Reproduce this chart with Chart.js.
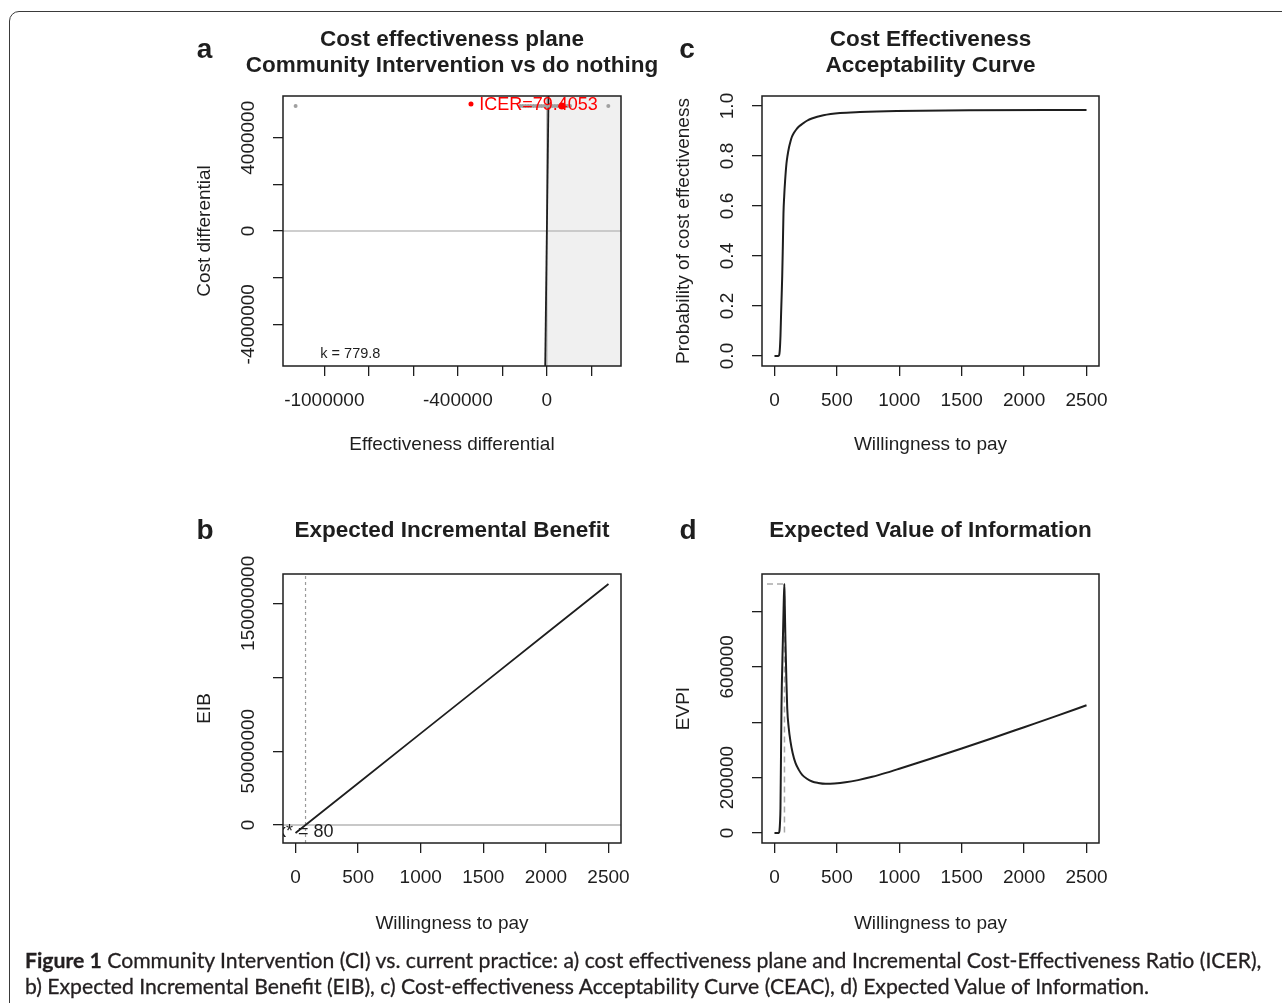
<!DOCTYPE html>
<html>
<head>
<meta charset="utf-8">
<script src="https://cdn.jsdelivr.net/npm/chart.js@4.4.1/dist/chart.umd.min.js"></script>
<style>
    html, body { margin: 0; padding: 0; background: #fff; width: 1282px; height: 1003px; overflow: hidden; }
    .frame { position: absolute; left: 9px; top: 11px; width: 1320px; height: 1040px; border: 1.5px solid #3a3a3a; border-radius: 10px; }
    canvas { position: absolute; }
    #cap { position: absolute; left: 25px; top: 947px; font-family: Lato, "Open Sans", sans-serif; color: #231f20; font-size: 19px; line-height: 26px; white-space: nowrap; -webkit-text-stroke: 0.3px #231f20; }
    #cap div { display: inline-block; }
</style>
</head>
<body>
<div class="frame"></div>
<canvas id="panelA" width="490" height="450" style="left:180px;top:20px"></canvas>
<canvas id="panelC" width="490" height="450" style="left:660px;top:20px"></canvas>
<canvas id="panelB" width="490" height="450" style="left:180px;top:500px"></canvas>
<canvas id="panelD" width="490" height="450" style="left:660px;top:500px"></canvas>
<div id="cap">
    <div id="capLine1"><b>Figure 1</b> Community Intervention (CI) vs. current practice: a) cost effectiveness plane and Incremental Cost-Effectiveness Ratio (ICER),</div><br>
    <div>b) Expected Incremental Benefit (EIB), c) Cost-effectiveness Acceptability Curve (CEAC), d) Expected Value of Information.</div>
</div>
<script>
/* BCEA-style summary: CE plane, EIB, CEAC and EVPI for Community Intervention */

const FONT = '"Liberation Sans", Arial, sans-serif';
const INK = '#1e1e1e';

// a) cost-effectiveness plane
const planeXLim = [-1185600, 333100];
const planeYLim = [-5790000, 5790000];
const planeXTicks = [-1000000, -800000, -600000, -400000, -200000, 0, 200000];
const planeXLabels = ['-1000000', '', '', '-400000', '', '0', ''];
const planeYTicks = [-4000000, -2000000, 0, 2000000, 4000000];
const planeYLabels = ['-4000000', '', '0', '', '4000000'];
const simEffect = [-1129000, -120000, -108000, -96000, -84000, -72000, -60000, -48000, -36000, -24000,
    -12000, 0, 12000, 24000, 36000, 48000, 60000, 80000, 92000, 104000, 276000];
const simCost = [5360000, 5360000, 5360000, 5360000, 5360000, 5360000, 5360000, 5360000, 5360000, 5360000,
    5360000, 5360000, 5360000, 5360000, 5360000, 5360000, 5360000, 5360000, 5360000, 5360000, 5360000];
const icerEffect = [67500];
const icerCost = [5360000];
const icerKeyEffect = [-341000];
const icerKeyCost = [5450000];
const kLineEffect = [-7425, 7425];
const kLineCost = [-5790000, 5790000];
const acceptEffect = [-7425, 7425, 333100];
const acceptCost = [-5790000, 5790000, 5790000];
const ICER_TEXT = 'ICER=79.4053';
const K_TEXT = 'k = 779.8';

// shared willingness-to-pay axis
const wtpLim = [-100, 2600];
const wtpTicks = [0, 500, 1000, 1500, 2000, 2500];
const wtpLabels = ['0', '500', '1000', '1500', '2000', '2500'];

// b) expected incremental benefit
const eibWtp = [0, 80, 500, 1000, 1500, 2000, 2500];
const eibValues = [-5390000, 0, 28310000, 62010000, 95710000, 129410000, 163110000];
const eibYLim = [-12130000, 169850000];
const eibYTicks = [0, 50000000, 100000000, 150000000];
const eibYLabels = ['0', '50000000', '', '150000000'];
const kStar = [80, 80];
const kStarSpan = [-12130000, 169850000];

// c) CEAC
const ceacWtp = [0, 30, 37, 42, 48, 53, 58, 62, 67, 72, 78, 85, 96, 104, 117, 128, 139, 155, 173, 198, 227, 260, 299, 392, 525, 685, 980, 1560, 2500];
const ceacProb = [0, 0, 0.003, 0.02, 0.08, 0.17, 0.25, 0.32, 0.44, 0.57, 0.64, 0.70, 0.77, 0.80, 0.836, 0.858, 0.876, 0.892, 0.905, 0.919, 0.93, 0.941, 0.95, 0.963, 0.972, 0.976, 0.98, 0.983, 0.984];
const ceacYLim = [-0.04, 1.04];
const ceacYTicks = [0, 0.2, 0.4, 0.6, 0.8, 1.0];
const ceacYLabels = ['0.0', '0.2', '0.4', '0.6', '0.8', '1.0'];

// d) EVPI
const evpiWtp = [0, 35, 40, 44, 48, 56, 67, 73, 79, 83, 88, 95, 102, 114, 128, 145, 168, 195, 222, 260, 302, 350, 409, 480, 569, 670, 783, 900, 1000, 1250, 1500, 1750, 2000, 2250, 2500];
const evpiValues = [0, 0, 8000, 35000, 90000, 451000, 692000, 810000, 899000, 810000, 692000, 560000, 451000, 380000, 331000, 290000, 253000, 228000, 210000, 196000, 186000, 181000, 178000, 179000, 183000, 191000, 203000, 218000, 232000, 268000, 305000, 343000, 382000, 421000, 461000];
const evpiYLim = [-35960, 934960];
const evpiYTicks = [0, 200000, 400000, 600000, 800000];
const evpiYLabels = ['0', '200000', '', '600000', ''];
const evpiPeakWtp = [-60, 80, 80];
const evpiPeakVal = [899000, 899000, -12000];

const xy = (xs, ys) => xs.map((x, i) => ({ x, y: ys[i] }));

function curve(xs, ys, color, width, extra) {
    return Object.assign({
        data: xy(xs, ys), showLine: true, borderColor: color, borderWidth: width,
        pointRadius: 0, fill: false,
    }, extra || {});
}

function panelDecor(spec) {
    return {
        id: 'decor',
        afterDatasetsDraw(chart) {
            const { ctx, chartArea: a, scales: { x, y } } = chart;
            // notes inside plot region (clipped like R's text)
            ctx.save();
            ctx.beginPath();
            ctx.rect(a.left, a.top, a.right - a.left, a.bottom - a.top);
            ctx.clip();
            (spec.notes || []).forEach(n => {
                ctx.fillStyle = n.color || INK;
                ctx.font = `${n.size}px ${FONT}`;
                ctx.textAlign = 'left';
                ctx.textBaseline = 'middle';
                ctx.fillText(n.text, x.getPixelForValue(n.x), y.getPixelForValue(n.y));
            });
            ctx.restore();

            ctx.save();
            ctx.strokeStyle = INK;
            ctx.lineWidth = 1.5;
            ctx.strokeRect(a.left, a.top, a.right - a.left, a.bottom - a.top);

            // y tick labels run along the axis
            ctx.fillStyle = INK;
            ctx.font = `19px ${FONT}`;
            ctx.textAlign = 'center';
            ctx.textBaseline = 'middle';
            spec.yTicks.forEach((v, i) => {
                if (!spec.yLabels[i]) return;
                ctx.save();
                ctx.translate(a.left - 34, y.getPixelForValue(v));
                ctx.rotate(-Math.PI / 2);
                ctx.fillText(spec.yLabels[i], 0, 0);
                ctx.restore();
            });

            ctx.textBaseline = 'alphabetic';
            ctx.font = `bold 22.5px ${FONT}`;
            const cx = (a.left + a.right) / 2;
            spec.title.forEach((t, i) => ctx.fillText(t, cx, spec.titleY[i]));
            ctx.font = `bold 28px ${FONT}`;
            ctx.fillText(spec.letter, spec.letterX, spec.letterY);
            ctx.restore();
        },
    };
}

function makePanel(id, spec) {
    const tickFont = { family: FONT, size: 19 };
    return new Chart(document.getElementById(id), {
        type: 'scatter',
        data: { datasets: spec.datasets },
        options: {
            responsive: false,
            animation: false,
            layout: { padding: { left: 0, top: spec.padTop, right: spec.padRight, bottom: 0 } },
            plugins: { legend: { display: false }, tooltip: { enabled: false } },
            scales: {
                x: {
                    type: 'linear', min: spec.xLim[0], max: spec.xLim[1],
                    afterBuildTicks: s => { s.ticks = spec.xTicks.map(v => ({ value: v })); },
                    afterFit: s => { s.height = spec.xAxisH; },
                    border: { display: false },
                    grid: { drawOnChartArea: false, drawTicks: true, tickLength: 10, color: INK, lineWidth: 1.3 },
                    ticks: { autoSkip: false, maxRotation: 0, padding: 13, color: INK, font: tickFont,
                        callback: (v, i) => spec.xLabels[i] },
                    title: { display: true, text: spec.xTitle, color: INK, font: tickFont,
                        padding: { top: 0, bottom: spec.xTitlePad } },
                },
                y: {
                    type: 'linear', min: spec.yLim[0], max: spec.yLim[1],
                    afterBuildTicks: s => { s.ticks = spec.yTicks.map(v => ({ value: v })); },
                    afterFit: s => { s.width = spec.yAxisW; },
                    border: { display: false },
                    grid: { drawOnChartArea: false, drawTicks: true, tickLength: 10, color: INK, lineWidth: 1.3 },
                    ticks: { autoSkip: false, callback: () => '' },
                    title: { display: true, text: spec.yTitle, color: INK, font: tickFont,
                        padding: { top: spec.yTitlePad, bottom: 0 } },
                },
            },
        },
        plugins: [panelDecor(spec)],
    });
}

const GREY = '#bebebe';

makePanel('panelA', {
    xLim: planeXLim, yLim: planeYLim,
    xTicks: planeXTicks, xLabels: planeXLabels, yTicks: planeYTicks, yLabels: planeYLabels,
    xTitle: 'Effectiveness differential', yTitle: 'Cost differential',
    padTop: 76, padRight: 49, yAxisW: 103, xAxisH: 104, xTitlePad: 14, yTitlePad: 13,
    title: ['Cost effectiveness plane', 'Community Intervention vs do nothing'], titleY: [25.5, 52],
    letter: 'a', letterX: 24.5, letterY: 38,
    notes: [
        { text: ICER_TEXT, x: -304000, y: 5420000, size: 18, color: '#ff0000' },
        { text: K_TEXT, x: -1018000, y: -5270000, size: 14.5 },
    ],
    datasets: [
        { data: xy(icerKeyEffect, icerKeyCost), pointRadius: 2.5, backgroundColor: '#ff0000', borderWidth: 0 },
        { data: xy(icerEffect, icerCost), pointRadius: 3.5, backgroundColor: '#ff0000', borderWidth: 0 },
        { data: xy(simEffect, simCost), pointRadius: 2, backgroundColor: '#a0a0a0', borderWidth: 0 },
        curve(kLineEffect, kLineCost, INK, 1.8),
        curve(planeXLim, [0, 0], GREY, 1.5),
        curve([0, 0], planeYLim, GREY, 1.5),
        curve(acceptEffect, acceptCost, 'rgba(0,0,0,0)', 0, { fill: 'start', backgroundColor: '#f0f0f0' }),
    ],
});

makePanel('panelC', {
    xLim: wtpLim, yLim: ceacYLim,
    xTicks: wtpTicks, xLabels: wtpLabels, yTicks: ceacYTicks, yLabels: ceacYLabels,
    xTitle: 'Willingness to pay', yTitle: 'Probability of cost effectiveness',
    padTop: 76, padRight: 51, yAxisW: 102, xAxisH: 104, xTitlePad: 14, yTitlePad: 12,
    title: ['Cost Effectiveness', 'Acceptability Curve'], titleY: [25.5, 52],
    letter: 'c', letterX: 27, letterY: 38,
    datasets: [
        curve(ceacWtp, ceacProb, INK, 2, { cubicInterpolationMode: 'monotone' }),
    ],
});

makePanel('panelB', {
    xLim: wtpLim, yLim: eibYLim,
    xTicks: wtpTicks, xLabels: wtpLabels, yTicks: eibYTicks, yLabels: eibYLabels,
    xTitle: 'Willingness to pay', yTitle: 'EIB',
    padTop: 74, padRight: 49, yAxisW: 103, xAxisH: 107, xTitlePad: 15, yTitlePad: 13,
    title: ['Expected Incremental Benefit'], titleY: [37],
    letter: 'b', letterX: 25, letterY: 39,
    notes: [{ text: 'k* = 80', x: -148, y: -4900000, size: 18 }],
    datasets: [
        curve(eibWtp, eibValues, INK, 1.8),
        curve(kStar, kStarSpan, '#9a9a9a', 1.2, { borderDash: [3, 3] }),
        curve(wtpLim, [0, 0], '#c8c8c8', 2),
    ],
});

makePanel('panelD', {
    xLim: wtpLim, yLim: evpiYLim,
    xTicks: wtpTicks, xLabels: wtpLabels, yTicks: evpiYTicks, yLabels: evpiYLabels,
    xTitle: 'Willingness to pay', yTitle: 'EVPI',
    padTop: 74, padRight: 51, yAxisW: 102, xAxisH: 107, xTitlePad: 15, yTitlePad: 12,
    title: ['Expected Value of Information'], titleY: [37],
    letter: 'd', letterX: 28, letterY: 39,
    datasets: [
        curve(evpiWtp, evpiValues, INK, 2, { cubicInterpolationMode: 'monotone' }),
        curve(evpiPeakWtp, evpiPeakVal, '#aaaaaa', 1.5, { borderDash: [6, 4] }),
    ],
});

// fit caption line 1 to the printed width
const cap = document.getElementById('cap');
const line1 = document.getElementById('capLine1');
const w = line1.getBoundingClientRect().width;
if (w > 0) cap.style.fontSize = (19 * 1237 / w).toFixed(2) + 'px';
</script>
</body>
</html>
